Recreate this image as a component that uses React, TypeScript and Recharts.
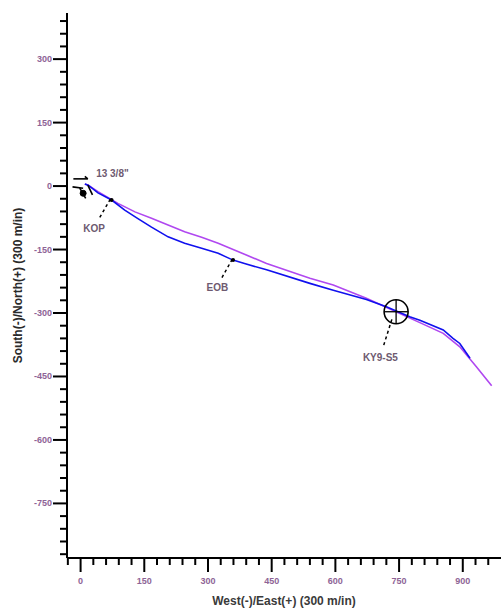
import {
  ComposedChart,
  Line,
  XAxis,
  YAxis,
  ReferenceLine,
  ReferenceDot,
} from 'recharts';

// plan (purple) and actual (blue) well paths, East / North in metres
const planEast = [10, 18, 41, 88, 128, 167, 206, 245, 285, 324, 386, 438, 540, 595, 673, 752, 795, 854, 893, 932, 968];
const planNorth = [5, 2, -13, -41, -61, -76, -92, -108, -121, -135, -161, -183, -218, -234, -265, -301, -321, -348, -380, -427, -472];

const actualEast = [10, 18, 41, 73, 104, 135, 167, 206, 245, 285, 324, 359, 386, 438, 540, 595, 673, 720, 775, 799, 854, 877, 893, 917];
const actualNorth = [5, 2, -16, -33, -57, -77, -97, -120, -135, -147, -159, -175, -183, -198, -230, -246, -268, -285, -309, -317, -340, -360, -372, -407];

const xTicks = [-30, 0, 30, 60, 90, 120, 150, 180, 210, 240, 270, 300, 330, 360, 390, 420, 450, 480, 510, 540, 570, 600, 630, 660, 690, 720, 750, 780, 810, 840, 870, 900, 930, 960];
const yTicks = [-870, -840, -810, -780, -750, -720, -690, -660, -630, -600, -570, -540, -510, -480, -450, -420, -390, -360, -330, -300, -270, -240, -210, -180, -150, -120, -90, -60, -30, 0, 30, 60, 90, 120, 150, 180, 210, 240, 270, 300, 330, 360, 390];

// annotations: points on the path, leader lines and their labels
const markerNames = ['KOP', 'EOB'];
const markerPoints = [{ x: 73, y: -33 }, { x: 359, y: -175 }];
const leaderLines = [
  [{ x: 70, y: -31 }, { x: 44, y: -76 }],
  [{ x: 357, y: -173 }, { x: 332, y: -218 }],
  [{ x: 733, y: -315 }, { x: 712, y: -382 }],
];
const labelTexts = ['13 3/8"', 'KOP', 'EOB', 'KY9-S5'];
const labelPoints = [{ x: 75, y: 30 }, { x: 32, y: -98 }, { x: 322, y: -238 }, { x: 706, y: -403 }];

const target = { x: 743, y: -297 };
const targetHalf = 28;

// casing shoe symbol near the surface location
const casingLines = [
  [{ x: -17, y: 17 }, { x: 17, y: 17 }],
  [{ x: 17, y: 17 }, { x: 10, y: 23 }],
  [{ x: -19, y: -2 }, { x: 6, y: -5 }],
  [{ x: -2, y: -5 }, { x: 12, y: -29 }],
  [{ x: 17, y: 2 }, { x: 28, y: -21 }],
];

const planData = planEast.map((x, i) => ({ x, y: planNorth[i] }));
const actualData = actualEast.map((x, i) => ({ x, y: actualNorth[i] }));

const tickColor = '#8e6496';

function YTick(props: any) {
  const { x, y, payload } = props;
  const major = payload.value % 150 === 0;
  const len = major ? 14 : 7;
  return (
    <g>
      <line x1={x - len} y1={y} x2={x} y2={y} stroke="#000" strokeWidth={2} />
      {major && (
        <text x={x - 15} y={y} dy={3} textAnchor="end" fontSize={9} fontWeight="bold" fill={tickColor} fontFamily="Arial, 'Liberation Sans', sans-serif">
          {payload.value}
        </text>
      )}
    </g>
  );
}

function XTick(props: any) {
  const { x, y, payload } = props;
  const major = payload.value % 150 === 0;
  const len = major ? 14 : 7;
  return (
    <g>
      <line x1={x} y1={y} x2={x} y2={y + len} stroke="#000" strokeWidth={2} />
      {major && (
        <text x={x} y={y + 26} textAnchor="middle" fontSize={9} fontWeight="bold" fill={tickColor} fontFamily="Arial, 'Liberation Sans', sans-serif">
          {payload.value}
        </text>
      )}
    </g>
  );
}

const textLabel = (value: string) => (p: any) => (
  <text x={p.cx} y={p.cy} dy={4} textAnchor="middle" fontSize={10} fontWeight="bold" fill="#6e5a70" fontFamily="Arial, 'Liberation Sans', sans-serif">
    {value}
  </text>
);

export default function App() {
  return (
    <div style={{ position: 'absolute', left: 0, top: 0, background: '#fff' }}>
      <ComposedChart width={501} height={608} margin={{ top: 13, right: 0, left: 0, bottom: 0 }}>
        <XAxis
          type="number"
          dataKey="x"
          domain={[-32, 990]}
          allowDataOverflow
          ticks={xTicks}
          interval={0}
          tickSize={0}
          tickMargin={0}
          tickLine={false}
          tick={<XTick />}
          height={50}
          axisLine={{ stroke: '#000', strokeWidth: 2 }}
          label={{
            content: ({ viewBox }: any) => (
              <text x={viewBox.x + viewBox.width / 2} y={viewBox.y + 47} textAnchor="middle" fontSize={12} fontWeight="bold" fill="#3a3a3a" fontFamily="Arial, 'Liberation Sans', sans-serif">
                West(-)/East(+) (300 m/in)
              </text>
            ),
          }}
        />
        <YAxis
          type="number"
          dataKey="y"
          domain={[-879, 409]}
          allowDataOverflow
          ticks={yTicks}
          interval={0}
          tickSize={0}
          tickMargin={0}
          tickLine={false}
          tick={<YTick />}
          width={67}
          axisLine={{ stroke: '#000', strokeWidth: 2 }}
          label={{
            content: ({ viewBox }: any) => {
              const cx = viewBox.x + 18;
              const cy = viewBox.y + viewBox.height / 2;
              return (
                <text x={cx} y={cy} transform={`rotate(-90 ${cx} ${cy})`} dy={4} textAnchor="middle" fontSize={12} fontWeight="bold" fill="#2a2a2a" fontFamily="Arial, 'Liberation Sans', sans-serif">
                  South(-)/North(+) (300 m/in)
                </text>
              );
            },
          }}
        />

        <Line data={planData} dataKey="y" type="linear" stroke="#b048f0" strokeWidth={1.6} dot={false} isAnimationActive={false} />
        <Line data={actualData} dataKey="y" type="linear" stroke="#1010ee" strokeWidth={1.6} dot={false} isAnimationActive={false} />

        {casingLines.map((seg, i) => (
          <ReferenceLine key={'c' + i} segment={seg} stroke="#000" strokeWidth={1.6} />
        ))}
        <ReferenceDot x={6} y={-17} r={3} fill="#000" stroke="#000" />

        {leaderLines.map((seg, i) => (
          <ReferenceLine key={'l' + i} segment={seg} stroke="#000" strokeWidth={1.5} strokeDasharray="3 3" />
        ))}
        {markerPoints.map((p, i) => (
          <ReferenceDot key={markerNames[i]} x={p.x} y={p.y} r={2} fill="#000" stroke="none" />
        ))}

        <ReferenceDot x={target.x} y={target.y} r={12} fill="none" stroke="#000" strokeWidth={1.6} />
        <ReferenceLine segment={[{ x: target.x - targetHalf, y: target.y }, { x: target.x + targetHalf, y: target.y }]} stroke="#000" strokeWidth={1.3} />
        <ReferenceLine segment={[{ x: target.x, y: target.y - targetHalf }, { x: target.x, y: target.y + targetHalf }]} stroke="#000" strokeWidth={1.3} />

        {labelPoints.map((p, i) => (
          <ReferenceDot key={labelTexts[i]} x={p.x} y={p.y} r={1} shape={textLabel(labelTexts[i])} />
        ))}
      </ComposedChart>
    </div>
  );
}
